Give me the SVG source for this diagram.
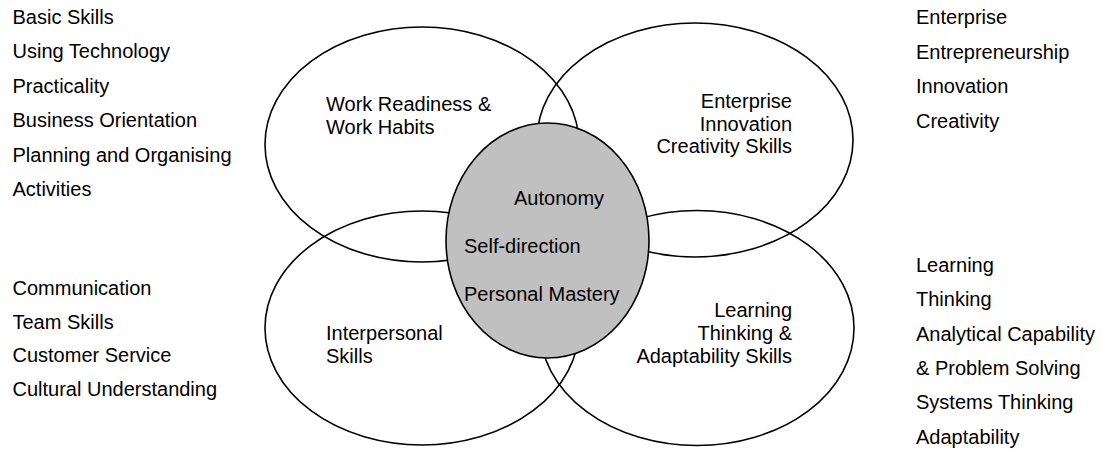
<svg xmlns="http://www.w3.org/2000/svg" width="1102" height="450" viewBox="0 0 1102 450">
  <style>
    text { font-family: "Liberation Sans", Arial, sans-serif; font-size: 20px; fill: #000; }
    .ring { fill: none; stroke: #000; stroke-width: 1.6; }
    .core { fill: #c0c0c0; stroke: #000; stroke-width: 1.6; }
    .end { text-anchor: end; }
  </style>
  <rect width="1102" height="450" fill="#fff"/>

  <!-- Four skill domains -->
  <g id="work-readiness">
    <ellipse class="ring" cx="422" cy="144.5" rx="157" ry="117.5"/>
    <text x="326" y="110.5">Work Readiness &amp;</text>
    <text x="326" y="133.5">Work Habits</text>
  </g>
  <g id="enterprise">
    <ellipse class="ring" cx="695" cy="140" rx="158" ry="117"/>
    <text class="end" x="792" y="107.5">Enterprise</text>
    <text class="end" x="792" y="130.5">Innovation</text>
    <text class="end" x="792" y="153">Creativity Skills</text>
  </g>
  <g id="interpersonal">
    <ellipse class="ring" cx="422" cy="328" rx="157" ry="117"/>
    <text x="326" y="339.5">Interpersonal</text>
    <text x="326" y="362.5">Skills</text>
  </g>
  <g id="learning">
    <ellipse class="ring" cx="697" cy="328" rx="157" ry="117.5"/>
    <text class="end" x="792" y="316.5">Learning</text>
    <text class="end" x="792" y="339.5">Thinking &amp;</text>
    <text class="end" x="792" y="362.5">Adaptability Skills</text>
  </g>

  <!-- Central core -->
  <g id="autonomy">
    <ellipse class="core" cx="547.5" cy="240.5" rx="101.5" ry="117.5"/>
    <text x="514" y="205">Autonomy</text>
    <text x="464" y="253">Self-direction</text>
    <text x="464" y="301">Personal Mastery</text>
  </g>

  <!-- Side lists -->
  <g id="list-work-readiness">
    <text x="12.5" y="23.5">Basic Skills</text>
    <text x="12.5" y="58">Using Technology</text>
    <text x="12.5" y="92.5">Practicality</text>
    <text x="12.5" y="127">Business Orientation</text>
    <text x="12.5" y="161.5">Planning and Organising</text>
    <text x="12.5" y="196">Activities</text>
  </g>
  <g id="list-enterprise">
    <text x="916" y="24">Enterprise</text>
    <text x="916" y="58.5">Entrepreneurship</text>
    <text x="916" y="93">Innovation</text>
    <text x="916" y="127.5">Creativity</text>
  </g>
  <g id="list-interpersonal">
    <text x="12.5" y="294.5">Communication</text>
    <text x="12.5" y="328.5">Team Skills</text>
    <text x="12.5" y="362">Customer Service</text>
    <text x="12.5" y="396">Cultural Understanding</text>
  </g>
  <g id="list-learning">
    <text x="916" y="272">Learning</text>
    <text x="916" y="306">Thinking</text>
    <text x="916" y="340.5">Analytical Capability</text>
    <text x="916" y="375">&amp; Problem Solving</text>
    <text x="916" y="409">Systems Thinking</text>
    <text x="916" y="443.5">Adaptability</text>
  </g>

  <g id="connectors"></g>
</svg>
